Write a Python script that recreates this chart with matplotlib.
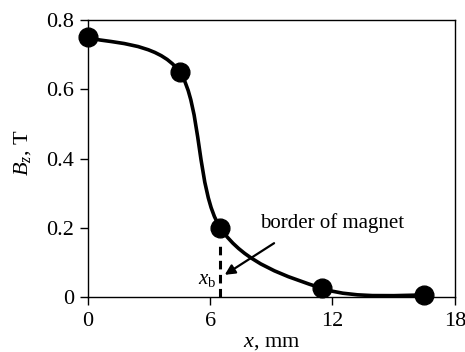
import numpy as np
import matplotlib.pyplot as plt
from matplotlib.path import Path
from matplotlib.patches import PathPatch

# data
x_mm = [0.0, 4.5, 6.5, 11.5, 16.5]
bz_t = [0.75, 0.65, 0.20, 0.025, 0.005]
x_border = 6.5
xticks = [0, 6, 12, 18]
yticks = [0, 0.2, 0.4, 0.6, 0.8]

plt.rcParams['font.family'] = 'Liberation Serif'
plt.rcParams['mathtext.fontset'] = 'custom'
plt.rcParams['mathtext.rm'] = 'Liberation Serif'
plt.rcParams['mathtext.it'] = 'Liberation Serif:italic'

fig = plt.figure(figsize=(4.65, 3.52), dpi=100)
ax = fig.add_axes([0.189, 0.156, 0.789, 0.787])
ax.set_xlim(0, 18)
ax.set_ylim(0, 0.8)


def smooth_path(x, y, sx, sy):
    # Excel-like smoothed line (Catmull-Rom bezier in screen proportions)
    X = np.array(x) * sx
    Y = np.array(y) * sy
    n = len(X)
    verts = [(X[0], Y[0])]
    codes = [Path.MOVETO]
    for i in range(n - 1):
        p0 = i - 1 if i > 0 else i
        p3 = i + 2 if i + 2 < n else i + 1
        c1 = (X[i] + (X[i + 1] - X[p0]) / 6, Y[i] + (Y[i + 1] - Y[p0]) / 6)
        c2 = (X[i + 1] - (X[p3] - X[i]) / 6, Y[i + 1] - (Y[p3] - Y[i]) / 6)
        verts += [c1, c2, (X[i + 1], Y[i + 1])]
        codes += [Path.CURVE4] * 3
    v = np.array(verts)
    v[:, 0] /= sx
    v[:, 1] /= sy
    return Path(v, codes)


sx = 367 / 18.0
sy = 277 / 0.8
ax.add_patch(PathPatch(smooth_path(x_mm, bz_t, sx, sy), fill=False,
                       edgecolor='black', linewidth=2.6, capstyle='round'))
ax.plot(x_mm, bz_t, 'o', color='black', markersize=13.5, clip_on=False, zorder=5)

# border of magnet
ax.plot([x_border, x_border], [0, 0.15], color='black', linewidth=2.2,
        dashes=(2.8, 1.8))
ax.annotate('', xy=(6.6, 0.06), xytext=(9.25, 0.16),
            arrowprops=dict(arrowstyle='-|>', color='black', lw=1.6,
                            mutation_scale=15))
ax.text(12.0, 0.214, 'border of magnet', ha='center', va='center', fontsize=15)
ax.text(6.3, 0.05, r'$x_\mathrm{b}$', ha='right', va='center', fontsize=15)

ax.set_xticks(xticks)
ax.set_yticks(yticks)
ax.set_xticklabels(['0', '6', '12', '18'])
ax.set_yticklabels(['0', '0.2', '0.4', '0.6', '0.8'])
ax.tick_params(direction='out', length=6, width=1, labelsize=16)
ax.tick_params(axis='y', pad=4)
ax.tick_params(axis='x', pad=5)
for s in ax.spines.values():
    s.set_linewidth(1)
ax.set_xlabel(r'$x$, mm', fontsize=16, labelpad=1)
ax.set_ylabel(r'$B_z$, T', fontsize=16)
ax.yaxis.set_label_coords(-0.15, 0.52)

fig.savefig('out.png', dpi=100)
